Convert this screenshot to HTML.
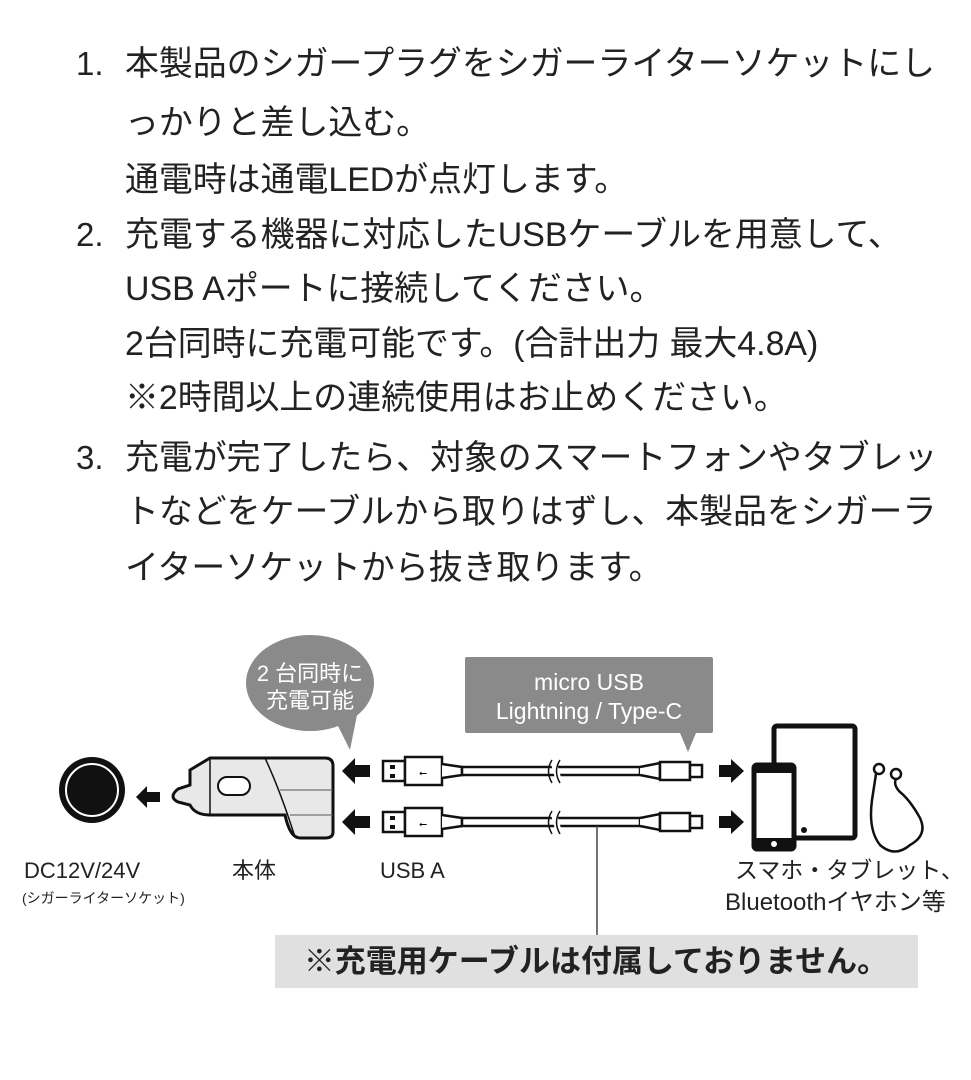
<!DOCTYPE html>
<html><head><meta charset="utf-8"><style>
body{margin:0;width:971px;height:1080px;background:#fff;position:relative;overflow:hidden;font-family:"Liberation Sans","Noto Sans CJK JP",sans-serif;color:#222}
.l{position:absolute;font-size:33.9px;line-height:40px;white-space:nowrap}
.n{position:absolute;font-size:33px;line-height:40px}
svg{position:absolute;left:0;top:0}
</style></head><body>
<div class="n" style="left:76px;top:44px">1.</div>
<div class="l" style="left:125px;top:44px">本製品のシガープラグをシガーライターソケットにし</div>
<div class="l" style="left:125px;top:103px">っかりと差し込む。</div>
<div class="l" style="left:125px;top:160px">通電時は通電LEDが点灯します。</div>
<div class="n" style="left:76px;top:215px">2.</div>
<div class="l" style="left:125px;top:215px">充電する機器に対応したUSBケーブルを用意して、</div>
<div class="l" style="left:125px;top:269px">USB Aポートに接続してください。</div>
<div class="l" style="left:125px;top:324px">2台同時に充電可能です。(合計出力 最大4.8A)</div>
<div class="l" style="left:125px;top:378px">※2時間以上の連続使用はお止めください。</div>
<div class="n" style="left:76px;top:438px">3.</div>
<div class="l" style="left:125px;top:438px">充電が完了したら、対象のスマートフォンやタブレッ</div>
<div class="l" style="left:125px;top:492px">トなどをケーブルから取りはずし、本製品をシガーラ</div>
<div class="l" style="left:125px;top:548px">イターソケットから抜き取ります。</div>

<svg width="971" height="1080" font-family="Liberation Sans, Noto Sans CJK JP, sans-serif">
<circle cx="92" cy="790" r="33" fill="#111"/>
<circle cx="92" cy="790" r="26" fill="none" stroke="#fff" stroke-width="2"/>
<polygon points="136,797 147,786 147,792 160,792 160,802 147,802 147,808" fill="#111"/>
<ellipse cx="310" cy="683" rx="64" ry="48" fill="#8a8a8a"/>
<polygon points="335,720 358,710 350,750" fill="#8a8a8a"/>
<text x="310" y="681" font-size="22" fill="#fff" text-anchor="middle">2 台同時に</text>
<text x="310" y="708" font-size="22" fill="#fff" text-anchor="middle">充電可能</text>
<path d="M190,770 L210,758 L325,758 Q333,758 333,766 L333,832 Q333,838 325,838 L300,838 Q290,838 285,815 L265,815 L210,815 Q195,815 190,805 L178,802 Q168,797 178,789 L190,785 Z" fill="#e8e8e8" stroke="#111" stroke-width="3"/>
<line x1="210" y1="758" x2="210" y2="815" stroke="#111" stroke-width="1.5"/>
<path d="M265,758 Q280,790 295,837" fill="none" stroke="#111" stroke-width="1.5"/>
<line x1="280" y1="790" x2="333" y2="790" stroke="#555" stroke-width="1"/>
<line x1="290" y1="815" x2="333" y2="815" stroke="#555" stroke-width="1"/>
<rect x="218" y="777" width="32" height="18" rx="9" fill="#fff" stroke="#111" stroke-width="2"/>
<polygon points="342,771 355,758 355,765 370,765 370,777 355,777 355,784" fill="#111"/>
<polygon points="342,822 355,809 355,816 370,816 370,828 355,828 355,835" fill="#111"/>
<rect x="465" y="657" width="248" height="76" rx="2" fill="#8a8a8a"/>
<polygon points="680,733 696,733 688,752" fill="#8a8a8a"/>
<text x="589" y="690" font-size="23" fill="#fff" text-anchor="middle">micro USB</text>
<text x="589" y="719" font-size="23" fill="#fff" text-anchor="middle">Lightning / Type-C</text>
<g stroke="#111" stroke-width="2.5" fill="#fff">
<rect x="383" y="761" width="22" height="20"/><rect x="405" y="757" width="37" height="28"/>
<rect x="383" y="812" width="22" height="20"/><rect x="405" y="808" width="37" height="28"/>
<path d="M442,764 L462,767 L462,775 L442,778"/><path d="M442,815 L462,818 L462,826 L442,829"/>
<rect x="462" y="767" width="178" height="8"/><rect x="462" y="818" width="178" height="8"/>
<path d="M640,767 L660,763 L660,779 L640,775"/><path d="M640,818 L660,814 L660,830 L640,826"/>
<rect x="660" y="762" width="30" height="18"/><rect x="660" y="813" width="30" height="18"/>
<rect x="690" y="765" width="12" height="12"/><rect x="690" y="816" width="12" height="12"/>
</g>
<g fill="#111"><rect x="390" y="765" width="5" height="4"/><rect x="390" y="774" width="5" height="4"/><rect x="390" y="816" width="5" height="4"/><rect x="390" y="825" width="5" height="4"/></g>
<text x="423" y="776" font-size="10" text-anchor="middle">⭠</text><text x="423" y="827" font-size="10" text-anchor="middle">⭠</text>
<g stroke="#fff" stroke-width="6"><line x1="553" y1="760" x2="560" y2="785"/><line x1="553" y1="811" x2="560" y2="836"/></g>
<g stroke="#111" stroke-width="1.5" fill="none"><path d="M552,760 Q545,771 552,783"/><path d="M560,760 Q553,771 560,783"/><path d="M552,811 Q545,822 552,834"/><path d="M560,811 Q553,822 560,834"/></g>
<polygon points="719,765 731,765 731,759 744,771 731,783 731,777 719,777" fill="#111"/>
<polygon points="719,816 731,816 731,810 744,822 731,834 731,828 719,828" fill="#111"/>
<rect x="774" y="726" width="81" height="112" rx="3" fill="#fff" stroke="#111" stroke-width="5"/>
<circle cx="804" cy="830" r="3" fill="#111"/>
<rect x="754" y="765" width="40" height="84" rx="3" fill="#fff" stroke="#111" stroke-width="5"/>
<rect x="754" y="765" width="40" height="8" fill="#111"/><rect x="754" y="838" width="40" height="11" fill="#111"/>
<circle cx="774" cy="844" r="3" fill="#fff"/>
<g fill="none" stroke="#111" stroke-width="2.5">
<circle cx="879" cy="769" r="5"/><circle cx="896" cy="774" r="5"/>
<path d="M876,774 L872,800 Q868,830 880,845 Q895,858 910,845 Q928,835 920,818 Q910,800 900,792 Q893,785 896,779"/>
</g>
<text x="24" y="878" font-size="22" fill="#222">DC12V/24V</text>
<text x="22" y="903" font-size="14" fill="#222">(シガーライターソケット)</text>
<text x="232" y="878" font-size="22" fill="#222">本体</text>
<text x="380" y="878" font-size="22" fill="#222">USB A</text>
<text x="735" y="878" font-size="23" fill="#222">スマホ・タブレット、</text>
<text x="725" y="910" font-size="24" fill="#222">Bluetoothイヤホン等</text>
<line x1="597" y1="826" x2="597" y2="935" stroke="#444" stroke-width="1.5"/>
<rect x="275" y="935" width="643" height="53" fill="#e0e0e0"/>
<text x="596" y="972" font-size="31" font-weight="bold" fill="#222" text-anchor="middle">※充電用ケーブルは付属しておりません。</text>
</svg>
</body></html>
